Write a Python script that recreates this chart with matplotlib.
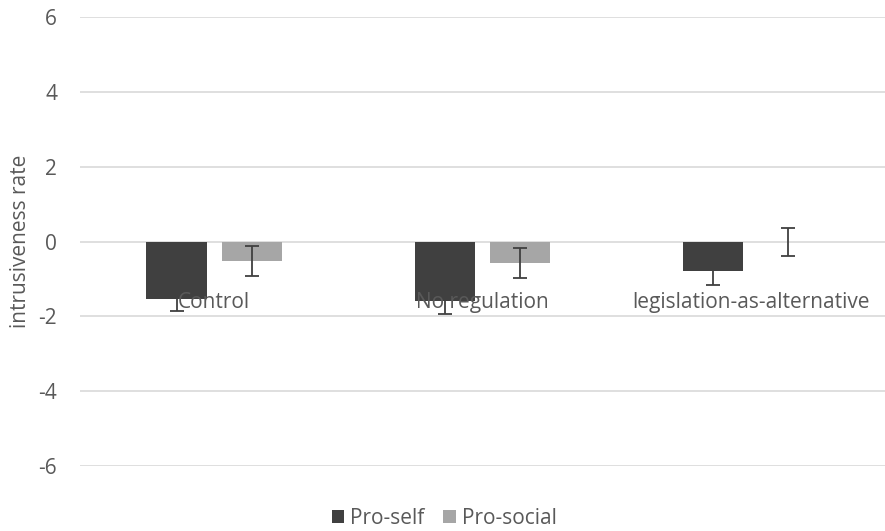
import numpy as np
import matplotlib.pyplot as plt

plt.rcParams['font.family'] = ['Open Sans', 'DejaVu Sans']

categories = ["Control", "No regulation", "legislation-as-alternative"]
pro_self = [-1.55, -1.6, -0.8]
pro_self_err = [0.32, 0.33, 0.35]
pro_social = [-0.53, -0.57, -0.02]
pro_social_err = [0.4, 0.4, 0.38]
yticks = [-6, -4, -2, 0, 2, 4, 6]

text_col = "#595959"
fs = 15

fig = plt.figure(figsize=(8.85, 5.31), dpi=100)
ax = fig.add_axes([80 / 885, 1 - 466 / 531, 805 / 885, 449 / 531])

x = np.arange(len(categories))
w = 0.225
ax.bar(x - 0.14, pro_self, w, color="#404040", label="Pro-self", zorder=2)
ax.bar(x + 0.14, pro_social, w, color="#a6a6a6", label="Pro-social", zorder=2)
ax.errorbar(x - 0.14, pro_self, yerr=pro_self_err, fmt="none", ecolor="#404040",
            elinewidth=1.3, capsize=5, capthick=1.3, zorder=3)
ax.errorbar(x + 0.14, pro_social, yerr=pro_social_err, fmt="none", ecolor="#404040",
            elinewidth=1.3, capsize=5, capthick=1.3, zorder=3)

ax.set_xlim(-0.5, 2.5)
ax.set_ylim(-6, 6)
ax.set_yticks(yticks)
ax.set_yticklabels([str(t) for t in yticks], color=text_col, fontsize=fs)
ax.tick_params(axis="y", length=0, pad=16.5)
ax.set_xticks([])
ax.grid(axis="y", color="#d9d9d9", linewidth=1.2, zorder=0)
for s in ax.spines.values():
    s.set_visible(False)

# category labels sit just under the zero line, Excel style
for xi, lab in zip(x, categories):
    ax.text(xi, -1.62, lab, ha="center", va="center", color=text_col, fontsize=fs, zorder=4)

ax.set_ylabel("intrusiveness rate", color=text_col, fontsize=fs)
ax.yaxis.set_label_coords(-49 / 805, 0.5)

fig.legend(loc="center", bbox_to_anchor=(0.502, 13 / 531), ncol=2, frameon=False,
           fontsize=fs, labelcolor=text_col, handlelength=0.6, handleheight=0.6,
           handletextpad=0.3, columnspacing=0.9)

fig.savefig("out.png", dpi=100)
